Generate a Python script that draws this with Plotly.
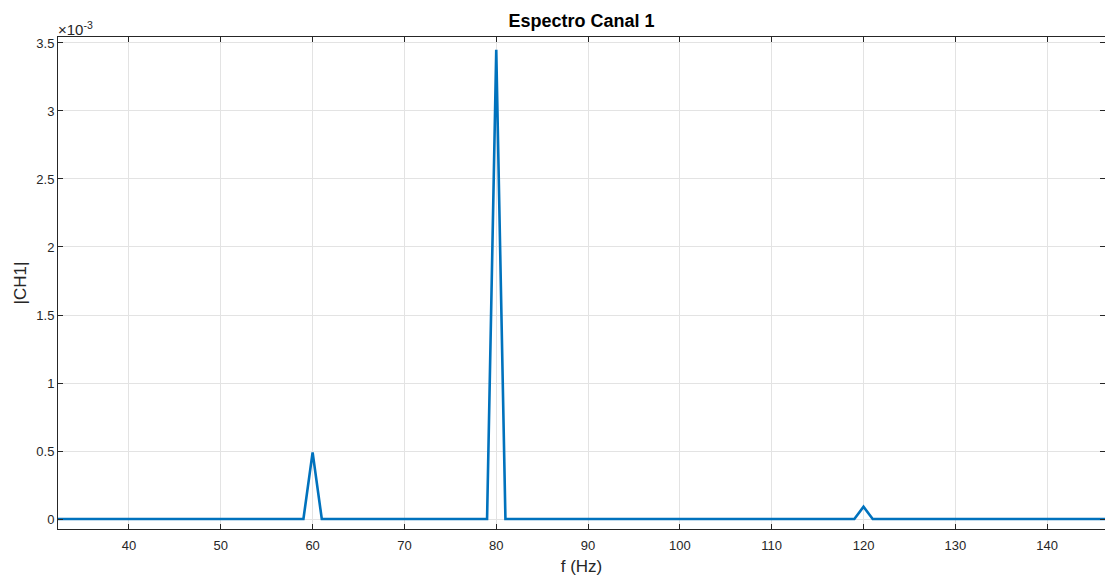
import plotly.graph_objects as go

# Spectrum data (frequency in Hz, magnitude)
freq_hz = [32, 59, 60, 61, 79, 80, 81, 119, 120, 121, 147]
magnitude = [0, 0, 0.49e-3, 0, 0, 3.45e-3, 0, 0, 0.09e-3, 0, 0]

x_ticks = [40, 50, 60, 70, 80, 90, 100, 110, 120, 130, 140]
y_tick_vals = [0, 0.5e-3, 1e-3, 1.5e-3, 2e-3, 2.5e-3, 3e-3, 3.5e-3]
y_tick_text = ["0", "0.5", "1", "1.5", "2", "2.5", "3", "3.5"]

axis_color = "#262626"
grid_color = "#e3e3e3"
font_family = "Liberation Sans, Arial, sans-serif"

fig = go.Figure()
fig.add_trace(go.Scatter(
    x=freq_hz, y=magnitude, mode="lines",
    line=dict(color="#0072BD", width=2.6),
    showlegend=False, hoverinfo="x+y",
))

fig.update_layout(
    width=1105, height=576,
    margin=dict(l=58, r=0, t=37, b=47),
    paper_bgcolor="white", plot_bgcolor="white",
    font=dict(family=font_family, color=axis_color, size=13),
    title=dict(text="<b>Espectro Canal 1</b>", x=(58 + 1105) / 2 / 1105, xanchor="center",
               y=1 - 21 / 576, yanchor="middle",
               font=dict(size=18, color="#000000", family=font_family)),
    xaxis=dict(
        range=[32.27, 146.3], tickvals=x_ticks, ticks="inside", ticklen=5,
        tickcolor=axis_color, showline=True, linecolor=axis_color, linewidth=1,
        mirror="ticks", showgrid=True, gridcolor=grid_color, zeroline=False,
        tickfont=dict(size=13, color=axis_color), ticklabelstandoff=4,
        title=dict(text="f (Hz)", font=dict(size=17, color=axis_color), standoff=8),
    ),
    yaxis=dict(
        range=[-0.0735e-3, 3.544e-3], tickvals=y_tick_vals, ticktext=y_tick_text,
        ticks="inside", ticklen=5, tickcolor=axis_color, showline=True,
        linecolor=axis_color, linewidth=1, mirror="ticks", showgrid=True,
        gridcolor=grid_color, zeroline=False,
        tickfont=dict(size=13, color=axis_color),
        title=dict(text="|CH1|", font=dict(size=17, color=axis_color), standoff=5),
    ),
    annotations=[dict(
        text="×10<sup>-3</sup>", xref="paper", yref="paper", x=0, y=1,
        xanchor="left", yanchor="bottom", showarrow=False, xshift=-2, yshift=-3,
        font=dict(size=15, color=axis_color, family=font_family),
    )],
)

fig.write_html("out.html")
